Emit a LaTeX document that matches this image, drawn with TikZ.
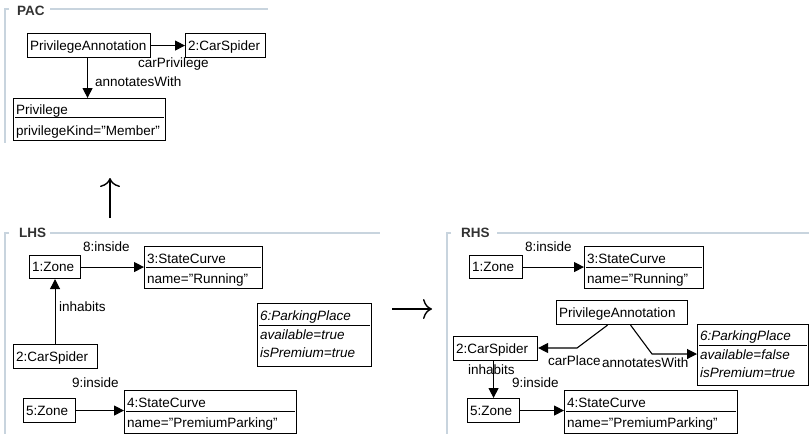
\documentclass[tikz,border=0pt]{standalone}
\usepackage{fontspec}
\setmainfont{Liberation Sans}
\usetikzlibrary{arrows.meta}
\definecolor{framec}{RGB}{200,212,222}
\definecolor{titlec}{RGB}{50,50,50}
\tikzset{
  box/.style={draw, line width=1.1pt, anchor=north west, inner sep=0pt},
  txt/.style={font=\fontsize{13.5}{16}\selectfont, inner sep=0pt, anchor=base west},
  itx/.style={txt, font=\fontsize{13.5}{16}\selectfont\itshape},
  divline/.style={line width=1pt},
  lnk/.style={line width=1.1pt, -{Triangle[length=10pt,width=10pt]}},
  frameline/.style={draw=framec, line width=1.2pt},
  ftitle/.style={font=\bfseries\fontsize{13.5}{16}\selectfont, text=titlec, inner sep=0pt, anchor=west},
  bigarrow/.style={line width=1.4pt, -{To[length=9pt,width=20pt]}}
}
\newcommand\obx[5]{\node[box, minimum width={#4-#2}, minimum height={#5-#3}] (#1) at (#2,#3) {};}
\newcommand\dvd[2]{\draw[divline] ([xshift=2pt]#1.west |- 0,#2) -- ([xshift=-2pt]#1.east |- 0,#2);}
\newcommand\qq{\symbol{34}}
\begin{document}
\begin{tikzpicture}[x=1pt,y=-1pt]
\useasboundingbox (0,0) rectangle (809,434);
% ---------------- frames
\node[ftitle] (tpac) at (17,11) {PAC};
\draw[frameline] (9,9) -- (5,9) -- (5,143);
\draw[frameline] (50,9) -- (268,9);
\node[ftitle] (tlhs) at (19,233) {LHS};
\draw[frameline] (9,233) -- (5,233) -- (5,434);
\draw[frameline] (50,233) -- (380,233);
\node[ftitle] (trhs) at (461,233) {RHS};
\draw[frameline] (451,233) -- (447,233) -- (447,434);
\draw[frameline] (497,233) -- (809,233);
% ---------------- big arrows
\coordinate (ua) at (110,218);
\coordinate (ub) at (110,178);
\draw[bigarrow] (ua) -- (ub);
\coordinate (ra) at (392,309);
\coordinate (rb) at (432,309);
\draw[bigarrow] (ra) -- (rb);
% ---------------- PAC
\obx{pa}{27}{33}{150}{57}
\node[txt] (pat) at (30,50) {PrivilegeAnnotation};
\obx{cs}{185}{33}{265}{57}
\node[txt] (cst) at (188,50) {2:CarSpider};
\obx{priv}{13}{98}{165}{140}
\node[txt] (privt) at (16,114) {Privilege};
\node[txt] (priva) at (16,135) {privilegeKind=\qq Member\qq};
\dvd{priv}{117}
\draw[lnk] (pa.east) -- (cs.west);
\node[txt] (l1) at (138,67) {carPrivilege};
\draw[lnk] ([xshift=-1.5pt]pa.south) -- ([xshift=-1.5pt]pa.south |- priv.north);
\node[txt] (l2) at (95,86) {annotatesWith};
% ---------------- LHS
\obx{z1}{29}{255}{80}{278}
\node[txt] (z1t) at (32,271.5) {1:Zone};
\obx{sc3}{144}{246}{262}{288}
\node[txt] (sc3t) at (147,263.5) {3:StateCurve};
\node[txt] (sc3a) at (147,283) {name=\qq Running\qq};
\dvd{sc3}{267}
\obx{cs2}{13}{344}{97}{368}
\node[txt] (cs2t) at (16,361) {2:CarSpider};
\obx{pp6}{257}{303}{371}{366}
\node[itx] (pp6t) at (260,320.5) {6:ParkingPlace};
\node[itx] (pp6a) at (260,339) {available=true};
\node[itx] (pp6b) at (260,357.5) {isPremium=true};
\dvd{pp6}{325}
\obx{z5}{23}{398}{75}{422}
\node[txt] (z5t) at (26,415) {5:Zone};
\obx{sc4}{124}{390}{296}{433}
\node[txt] (sc4t) at (127,407) {4:StateCurve};
\node[txt] (sc4a) at (127,427) {name=\qq PremiumParking\qq};
\dvd{sc4}{411}
\draw[lnk] (z1.east) -- (z1.east -| sc3.west);
\node[txt] (l3) at (83,251) {8:inside};
\draw[lnk] (cs2.north -| z1.south) -- (z1.south);
\node[txt] (l4) at (59,311) {inhabits};
\draw[lnk] (z5.east) -- (z5.east -| sc4.west);
\node[txt] (l5) at (72,387) {9:inside};
% ---------------- RHS
\obx{rz1}{469}{255}{522}{278}
\node[txt] (rz1t) at (472,271.5) {1:Zone};
\obx{rsc3}{584}{246}{703}{288}
\node[txt] (rsc3t) at (587,263.5) {3:StateCurve};
\node[txt] (rsc3a) at (587,283) {name=\qq Running\qq};
\dvd{rsc3}{267}
\obx{rpa}{556}{300}{687}{324}
\node[txt] (rpat) at (559,317) {PrivilegeAnnotation};
\obx{rcs2}{453}{336}{537}{360}
\node[txt] (rcs2t) at (456,353) {2:CarSpider};
\obx{rpp6}{697}{324}{808}{385}
\node[itx] (rpp6t) at (700,340.5) {6:ParkingPlace};
\node[itx] (rpp6a) at (700,359) {available=false};
\node[itx] (rpp6b) at (700,377.5) {isPremium=true};
\dvd{rpp6}{345}
\obx{rz5}{467}{398}{519}{422}
\node[txt] (rz5t) at (470,415) {5:Zone};
\obx{rsc4}{564}{390}{737}{433}
\node[txt] (rsc4t) at (567,407) {4:StateCurve};
\node[txt] (rsc4a) at (567,427) {name=\qq PremiumParking\qq};
\dvd{rsc4}{411}
\draw[lnk] (rz1.east) -- (rz1.east -| rsc3.west);
\node[txt] (l6) at (525,251) {8:inside};
\coordinate (k1) at (577,348);
\draw[lnk] ([xshift=-14.5pt]rpa.south) -- (k1) -- (k1 -| rcs2.east);
\node[txt] (l7) at (548,365) {carPlace};
\coordinate (k2) at (652,354);
\draw[lnk] ([xshift=8.5pt]rpa.south) -- (k2) -- (k2 -| rpp6.west);
\node[txt] (l8) at (602,367) {annotatesWith};
\draw[lnk] (rz5.north |- rcs2.south) -- (rz5.north);
\node[txt] (l9) at (468,374) {inhabits};
\draw[lnk] (rz5.east) -- (rz5.east -| rsc4.west);
\node[txt] (l10) at (512,387) {9:inside};
\end{tikzpicture}
\end{document}
